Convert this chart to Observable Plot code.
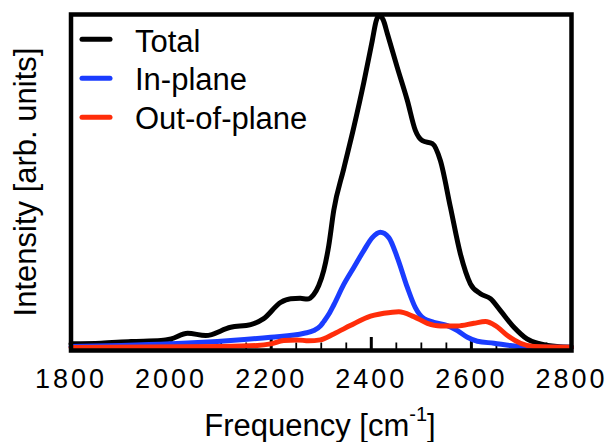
<!DOCTYPE html>
<html><head><meta charset="utf-8">
<script src="https://cdn.jsdelivr.net/npm/d3@7"></script>
<script src="https://cdn.jsdelivr.net/npm/@observablehq/plot@0.6"></script>
<style>body{margin:0;background:#fff} #chart svg{display:block}</style>
</head><body><div id="chart"></div>
<script>
const seriesNames = ["Total", "In-plane", "Out-of-plane"];
const seriesColors = ["#000000", "#1a3cff", "#ff2d0a"];

const totalFreq = [1800,1860,1920,1980,2000,2033,2069,2119,2159,2185,2219,2239,2258,2272,2285,2295,2305,2315,2325,2345,2365,2385,2402,2410,2416,2424,2432,2452,2472,2488,2502,2522,2538,2558,2578,2598,2618,2638,2658,2685,2711,2738,2771,2800];
const totalIntensity = [1.1,1.3,1.8,2.1,2.6,4.3,3.6,6.1,6.9,8.7,13.6,14.7,14.8,14.6,16.0,18.7,23.2,30.7,41.3,53.9,66.3,79.8,92.5,98.5,100,98.6,94.6,84.3,74.4,65.4,62.3,61.4,56.3,42.3,28.2,19.2,16.2,14.7,11.1,6.1,2.6,1.1,0.3,0.1];

const inFreq = [1800,1900,2000,2119,2199,2266,2285,2299,2305,2315,2325,2345,2365,2385,2402,2418,2435,2452,2472,2488,2505,2525,2552,2572,2592,2612,2645,2678,2711,2800];
const inIntensity = [0.3,0.6,1.1,2.1,3.1,4.3,5.1,6.6,7.8,10.0,12.8,19.0,24.1,29.2,33.1,34.7,33.1,27.1,18.1,12.0,8.7,7.6,6.6,5.1,3.1,1.9,1.3,0.6,0.1,0.1];

const outFreq = [1800,2099,2172,2199,2225,2252,2275,2298,2325,2358,2392,2425,2455,2485,2512,2538,2572,2605,2628,2648,2672,2698,2725,2800];
const outIntensity = [0,0.3,0.6,1.1,2.1,2.3,2.0,2.3,4.1,6.6,9.1,10.3,10.8,9.3,7.3,6.5,6.5,7.3,7.8,6.6,3.6,1.3,0.3,0.1];

const xTicks = [1800, 2000, 2200, 2400, 2600, 2800];
const majorInnerTicks = [2000, 2200, 2400, 2600];
const minorTicks = [1850,1900,1950,2050,2100,2150,2250,2300,2350,2450,2500,2550,2650,2700,2750];
const xLabel = "Frequency [cm";
const xLabelSup = "-1";
const xLabelEnd = "]";
const yLabel = "Intensity [arb. units]";

const seriesData = [[totalFreq, totalIntensity], [inFreq, inIntensity], [outFreq, outIntensity]];
const rows = [];
seriesData.forEach(([fs, vs], i) => fs.forEach((f, j) => rows.push({series: seriesNames[i], freq: f, value: vs[j]})));

const font = "'Liberation Sans', Arial, Helvetica, sans-serif";
const plotH = 442 - 14 - 92;

const chart = Plot.plot({
  width: 607, height: 442,
  marginLeft: 70.5, marginRight: 36, marginTop: 14, marginBottom: 92,
  style: {fontFamily: font, background: "#fff", color: "#000"},
  x: {domain: [1800, 2800]},
  y: {domain: [-0.9, 100.3], axis: null},
  color: {domain: seriesNames, range: seriesColors},
  marks: [
    Plot.ruleX(minorTicks, {x: d => d, insetTop: plotH - 7.5, stroke: "#000", strokeWidth: 1.8}),
    Plot.ruleX(majorInnerTicks, {x: d => d, insetTop: plotH - 13, stroke: "#000", strokeWidth: 3}),
    Plot.line(rows, {x: "freq", y: "value", z: "series", stroke: "series", strokeWidth: 5, curve: "monotone-x", strokeLinejoin: "round", strokeLinecap: "round"}),
    Plot.frame({stroke: "#000", strokeWidth: 4.5}),
    Plot.axisX({ticks: xTicks, tickSize: 0, tickPadding: 18.5, tickFormat: "d", fontSize: 27, label: null})
  ]
});
document.getElementById("chart").appendChild(chart);

const svg = d3.select(chart);
svg.selectAll("g[aria-label='x-axis tick label'] text").attr("letter-spacing", "3px").attr("fill", "#000");

// Legend
const leg = svg.append("g").attr("font-family", font).attr("font-size", 31).attr("text-anchor", "start");
seriesNames.forEach((name, i) => {
  leg.append("line").attr("x1", 82).attr("x2", 110).attr("y1", 39.3 + 39 * i).attr("y2", 39.3 + 39 * i)
    .attr("stroke", seriesColors[i]).attr("stroke-width", 5).attr("stroke-linecap", "round");
  leg.append("text").attr("x", 135).attr("y", 51.7 + 38.7 * i).attr("text-anchor", "start").attr("fill", "#000").text(name);
});

// Axis labels
const xl = svg.append("text").attr("x", 320).attr("y", 436).attr("text-anchor", "middle")
  .attr("font-family", font).attr("font-size", 31).attr("fill", "#000");
xl.append("tspan").text(xLabel);
xl.append("tspan").attr("font-size", 20).attr("dy", -15).text(xLabelSup);
xl.append("tspan").attr("dy", 15).text(xLabelEnd);

svg.append("text").attr("transform", "translate(36,182) rotate(-90)").attr("text-anchor", "middle")
  .attr("font-family", font).attr("font-size", 31).attr("fill", "#000").text(yLabel);
</script>
</body></html>
